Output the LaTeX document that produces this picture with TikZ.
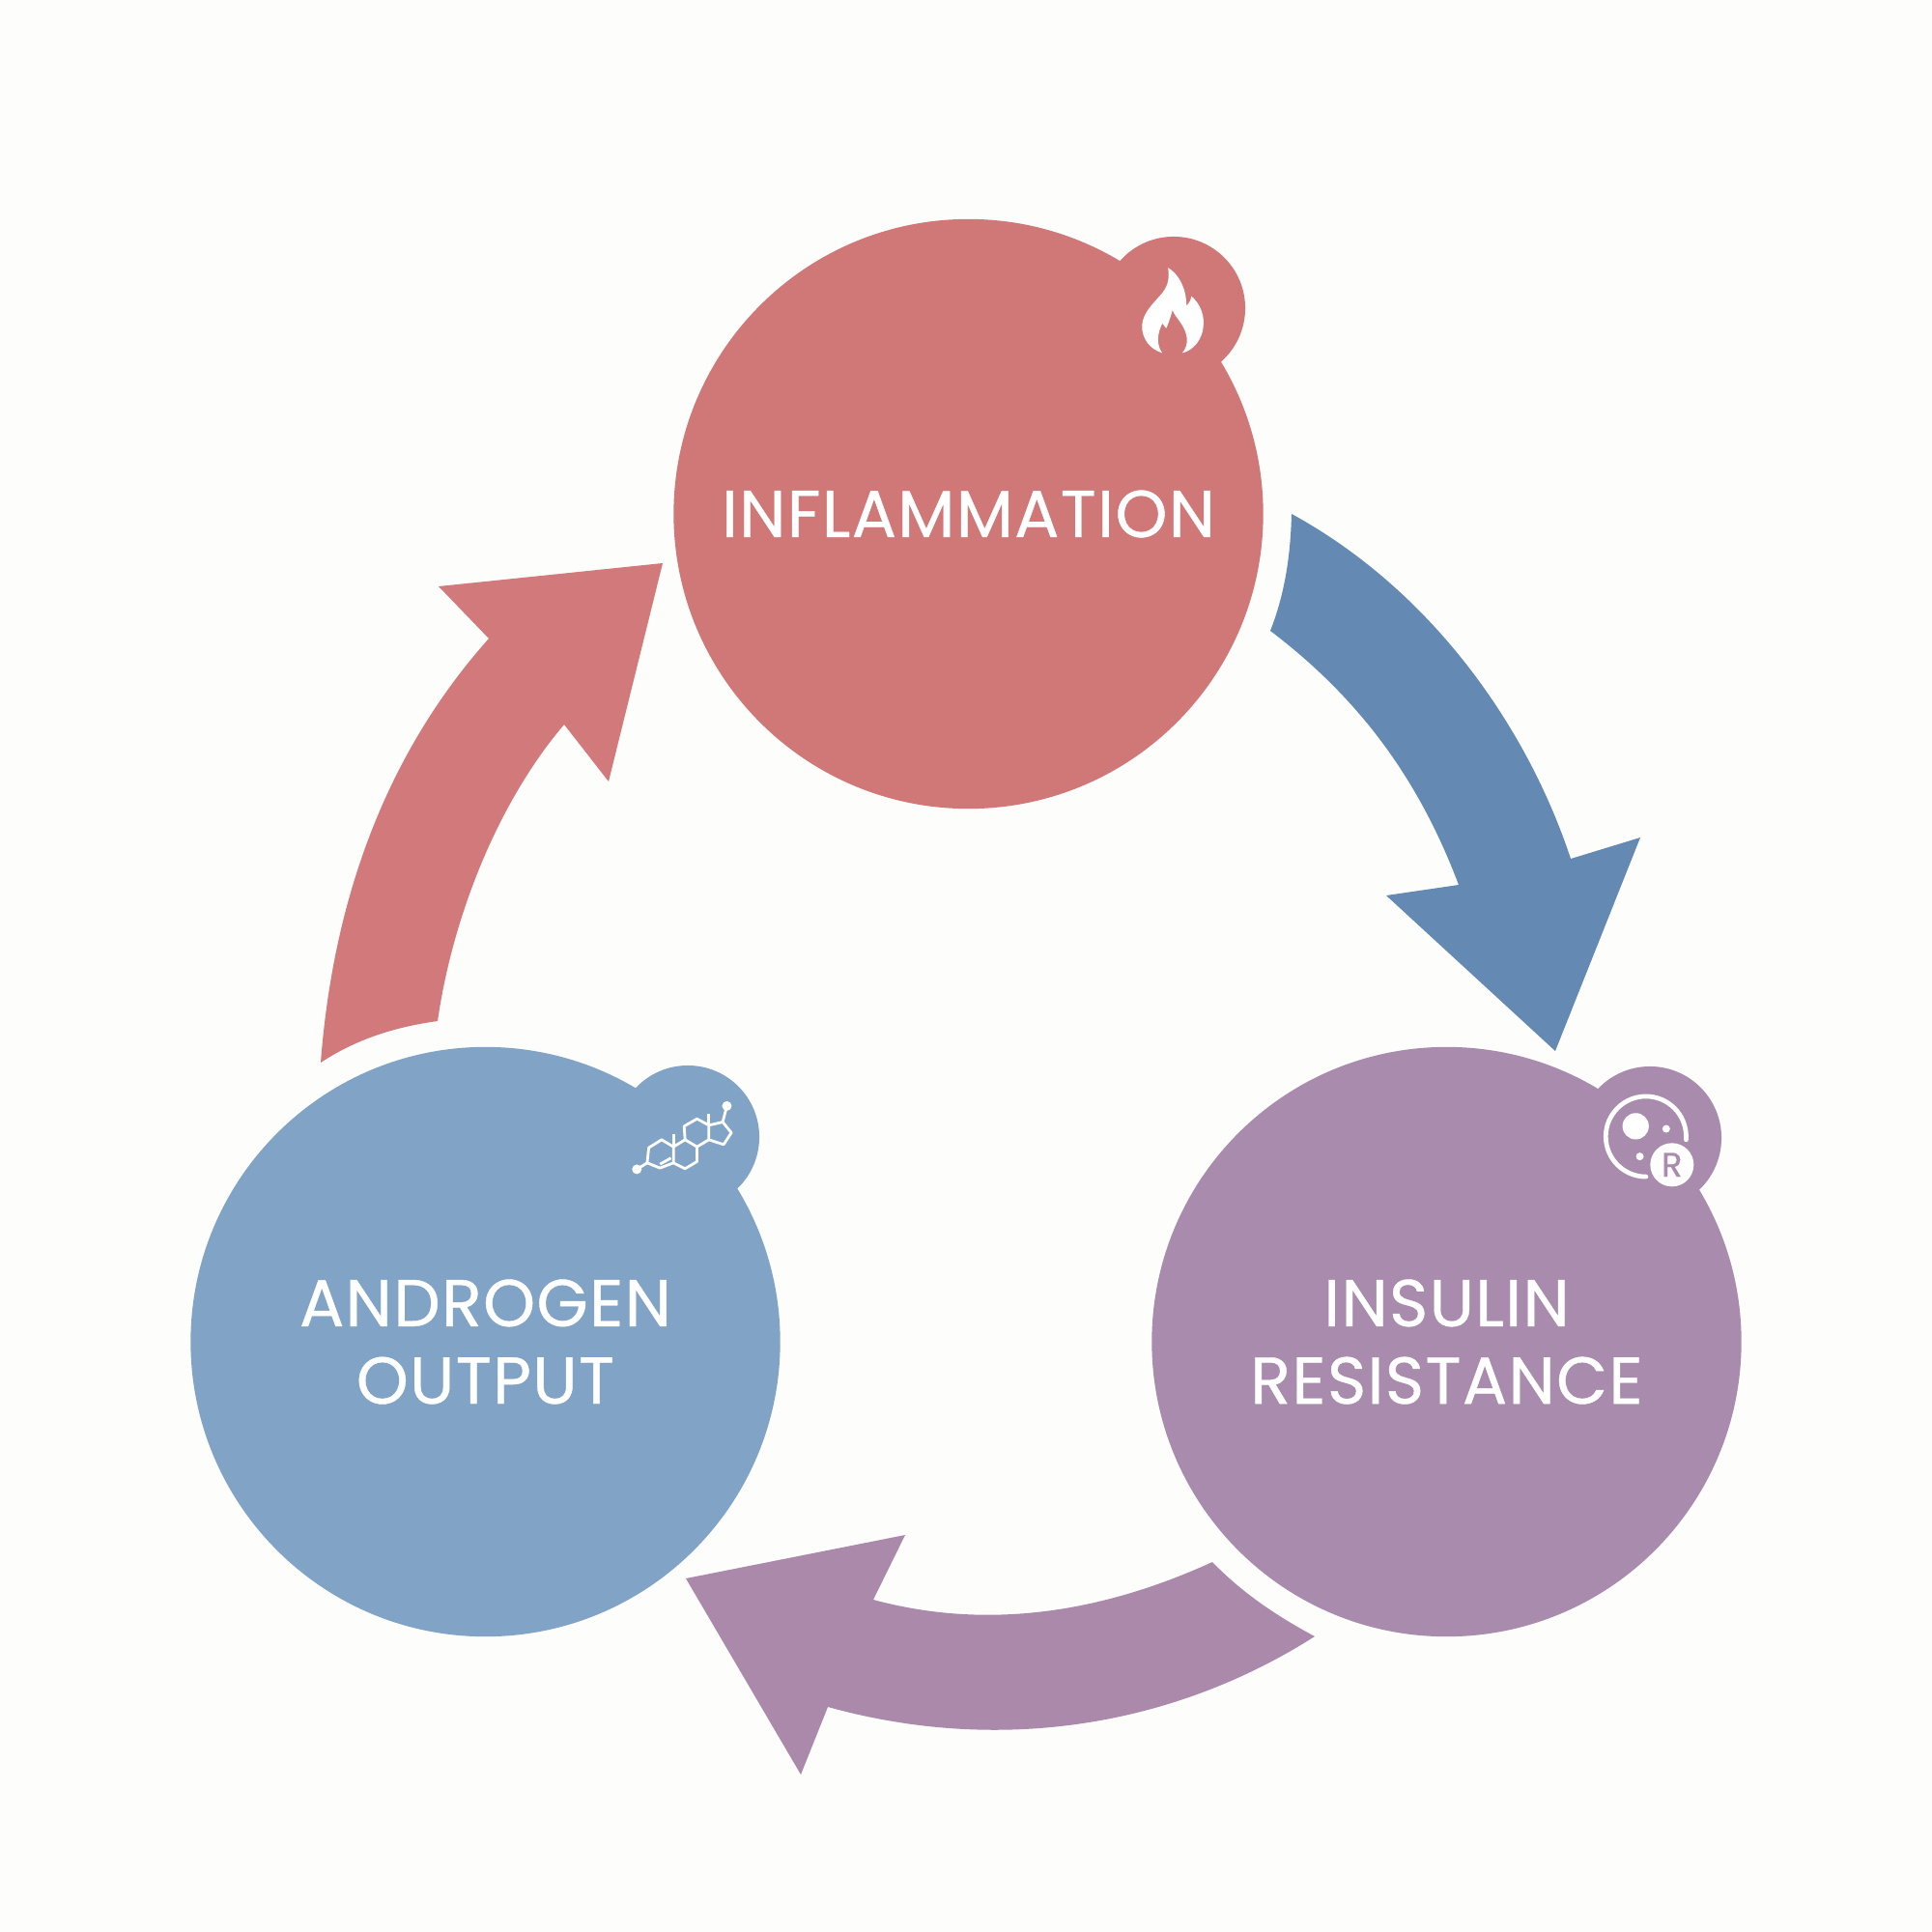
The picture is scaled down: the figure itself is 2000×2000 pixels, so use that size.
\documentclass[tikz,border=0pt]{standalone}
\usepackage{fontspec}
\setmainfont[LetterSpace=2,FakeBold=0.6]{Poppins}
\usetikzlibrary{arrows.meta,positioning,calc}
\definecolor{paper}     {HTML}{FDFDFB}
\definecolor{flamered}  {HTML}{D07878}
\definecolor{androblue} {HTML}{81A4C6}
\definecolor{insulinvio}{HTML}{A98BAD}
\definecolor{arrowred}  {HTML}{D27A7B}
\definecolor{arrowblue} {HTML}{6489B2}
\definecolor{arrowvio}  {HTML}{AB89AB}
\tikzset{
  stagecirc/.style ={circle, minimum size=6.1cm, inner sep=0pt, align=center,
                     text=white, font=\fontsize{19.5}{22.8}\selectfont},
  bumpcirc/.style  ={circle, minimum size=1.48cm, inner sep=0pt},
  iconline/.style  ={draw=white, line width=0.8pt, line join=round},
  cellline/.style  ={draw=white, line width=1.35pt, line cap=round},
}

\begin{document}
\begin{tikzpicture}[x=0.01cm,y=-0.01cm]
    \fill[paper] (0,0) rectangle (2000,2000);
    \useasboundingbox (0,0) rectangle (2000,2000);

    % bumps go under the big circles
    \node[bumpcirc,fill=flamered] (flamebump) at (1215,319) {};
    \node[bumpcirc,fill=androblue] (androbump) at (712,1177) {};
    \node[bumpcirc,fill=insulinvio] (insulinbump) at (1708,1178) {};

    \node[stagecirc,fill=flamered] (inflam) at (1002.5,532) {INFLAMMATION};
    \node[stagecirc,fill=androblue] (andro) at (502.5,1389) {ANDROGEN\\OUTPUT};
    \node[stagecirc,fill=insulinvio] (insulin) at (1497.5,1389) {INSULIN\\RESISTANCE};

    % red arrow
    \coordinate (redtailout) at (332,1100);
    \coordinate (redtailin) at (453,1057);
    \coordinate (redtip) at (686,583);
    \fill[arrowred] (redtailout) .. controls (345,930) and (400,780) .. (506,661)
      -- (454,607) -- (redtip) -- (630,809) -- (584,750)
      .. controls (520,825) and (470,940) .. (redtailin)
      .. controls (410,1063) and (370,1075) .. (redtailout) -- cycle;

    % blue arrow
    \coordinate (bluetailout) at (1337,532);
    \coordinate (bluetailin) at (1315,653);
    \coordinate (bluetip) at (1610,1088);
    \fill[arrowblue] (bluetailout) .. controls (1480,610) and (1580,750) .. (1626,889)
      -- (1698,867) -- (bluetip) -- (1435,927) -- (1510,916)
      .. controls (1470,810) and (1410,725) .. (bluetailin)
      .. controls (1330,615) and (1336,575) .. (bluetailout) -- cycle;

    % purple arrow
    \coordinate (viotailout) at (1361,1694);
    \coordinate (viotailin) at (1255,1617);
    \coordinate (viotip) at (710,1634);
    \fill[arrowvio] (viotailout) .. controls (1210,1790) and (1030,1815) .. (857,1767)
      -- (829,1837) -- (viotip) -- (937,1589) -- (904,1656)
      .. controls (1030,1690) and (1150,1665) .. (viotailin)
      .. controls (1285,1648) and (1320,1672) .. (viotailout) -- cycle;

    % flame icon
    \begin{scope}[shift={(1120,220)},x=0.00333cm,y=-0.00333cm]
      \fill[white] (268,172) .. controls (300,190) and (325,235) .. (325,290)
        .. controls (335,280) and (340,270) .. (340,260)
        .. controls (365,280) and (380,315) .. (378,345)
        .. controls (378,395) and (345,430) .. (312,437)
        .. controls (335,410) and (330,375) .. (305,340)
        .. controls (295,325) and (285,315) .. (282,303)
        .. controls (275,325) and (270,345) .. (262,360)
        -- (250,345) .. controls (235,375) and (230,410) .. (250,437)
        .. controls (210,425) and (185,390) .. (187,350)
        .. controls (190,310) and (225,280) .. (250,250)
        .. controls (270,225) and (272,200) .. (268,172) -- cycle;
    \end{scope}

    % steroid icon
    \begin{scope}[shift={(620,1080)},x=0.00333cm,y=-0.00333cm]
      \draw[iconline] (118,392) -- (150,372);
      \draw[iconline] (150,372) -- (155,325) -- (195,300) -- (232,322)
        -- (232,372) -- (190,388) -- cycle;
      \draw[iconline] (190,376) -- (224,357);
      \draw[iconline] (232,322) -- (232,282);
      \draw[iconline] (232,322) -- (268,300) -- (305,322) -- (305,368) -- (268,390) -- (232,372);
      \draw[iconline] (268,300) -- (265,258) -- (305,235) -- (342,255) -- (342,300) -- (305,322);
      \draw[iconline] (342,255) -- (342,218);
      \draw[iconline] (342,300) -- (388,315) -- (412,278) -- (385,245) -- (342,255);
      \draw[iconline] (385,245) -- (398,195);
      \fill[white] (118,392) circle[radius=15];
      \fill[white] (398,195) circle[radius=15];
    \end{scope}

    % cell icon
    \begin{scope}[shift={(1620,1080)},x=0.00333cm,y=-0.00333cm]
      \draw[cellline] (377,300) -- (377,290) .. controls (377,221) and (321,165) .. (252,165)
        .. controls (183,165) and (127,221) .. (127,290)
        .. controls (127,359) and (183,415) .. (252,415);
      \fill[white] (220,258) circle[radius=41];
      \fill[white] (315,266) circle[radius=12];
      \fill[white] (233,352) circle[radius=12];
      \node[circle,fill=white,minimum size=0.45cm,inner sep=0pt,text=insulinvio,
        font=\fontsize{10}{10}\selectfont] (badge) at (333,378) {R};
    \end{scope}
  \end{tikzpicture}
\end{document}
